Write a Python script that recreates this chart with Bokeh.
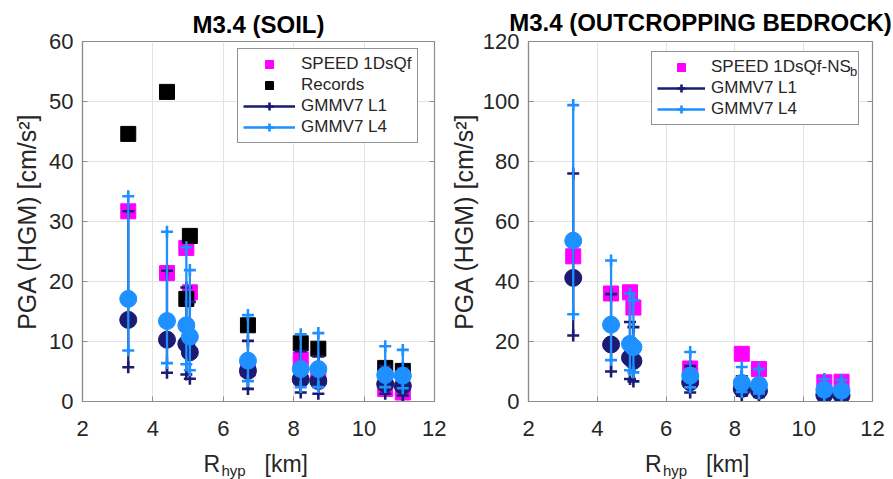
from bokeh.plotting import figure
from bokeh.layouts import row, column
from bokeh.models import (Range1d, FixedTicker, Legend, LegendItem, Label, LinearAxis)
from bokeh.embed import file_html
from bokeh.resources import INLINE

# ---------------- data ----------------
rhyp = [3.3, 4.4, 4.95, 5.05, 6.7, 8.2, 8.7, 10.6, 11.1]

# M3.4 SOIL
soil_speed = [31.7, 21.4, 25.6, 18.2, 5.5, 7.0, 4.0, 2.1, 1.5]
soil_records = [44.6, 51.6, 17.1, 27.6, 12.7, 9.7, 8.8, 5.6, 5.1]
soil_l1_med = [13.6, 10.3, 9.6, 8.2, 5.1, 3.7, 3.4, 2.9, 2.6]
soil_l1_hi = [31.7, 21.8, 19.0, 16.6, 10.1, 8.4, 7.5, 5.9, 5.6]
soil_l1_lo = [5.7, 4.8, 4.5, 3.8, 2.1, 1.5, 1.3, 1.3, 1.0]
soil_l4_med = [17.1, 13.4, 12.7, 10.8, 6.8, 5.4, 5.4, 4.4, 4.3]
soil_l4_hi = [34.2, 28.3, 25.7, 21.9, 14.4, 11.2, 11.4, 9.2, 8.6]
soil_l4_lo = [8.5, 6.4, 6.2, 5.2, 3.4, 2.4, 2.4, 2.4, 2.2]

# M3.4 OUTCROPPING BEDROCK
rock_speed = [48.4, 36.0, 36.4, 31.3, 11.0, 15.9, 10.8, 6.4, 6.6]
rock_l1_med = [41.2, 19.0, 14.6, 13.5, 6.4, 4.2, 3.6, 2.2, 2.0]
rock_l1_hi = [76.0, 35.8, 26.5, 24.8, 11.8, 8.4, 7.4, 4.6, 4.2]
rock_l1_lo = [22.0, 10.0, 7.5, 6.7, 3.0, 1.9, 1.5, 1.0, 0.9]
rock_l4_med = [53.6, 25.6, 19.2, 18.1, 8.6, 6.2, 5.5, 3.9, 3.6]
rock_l4_hi = [98.8, 47.0, 36.0, 33.8, 16.5, 11.5, 10.8, 7.5, 7.2]
rock_l4_lo = [29.1, 13.8, 10.4, 9.7, 4.7, 3.2, 2.7, 2.0, 1.8]

x_ticks = [2, 4, 6, 8, 10, 12]
soil_y_ticks = [0, 10, 20, 30, 40, 50, 60]
rock_y_ticks = [0, 20, 40, 60, 80, 100, 120]

# ---------------- style ----------------
FONT = "Liberation Sans"
NAVY = "#1b1b72"
BLUE = "#1e90ff"
MAGENTA = "#ff00ff"
AXIS = "#8c8c8c"
TEXT = "#262626"
GRID = "#e3e3e3"
PANEL_H = 450


def box_axis(ticks):
    # axis used only for the inward "box" ticks on the right side
    return LinearAxis(ticker=FixedTicker(ticks=ticks), major_label_text_font_size="1px",
                      major_label_text_color=None, axis_line_color=None,
                      major_tick_line_color=AXIS, major_tick_in=5, major_tick_out=0,
                      minor_tick_line_color=None, major_label_standoff=0)


def base_fig(title, width, ymax, yticks, bl, br, bt, bb, ylab_standoff, title_standoff):
    p = figure(width=width, height=PANEL_H, x_range=Range1d(2, 12), y_range=Range1d(0, ymax),
               output_backend="svg", toolbar_location=None, title=title,
               min_border_left=bl, min_border_right=br, min_border_top=bt, min_border_bottom=bb)
    p.title.text_font = FONT
    p.title.text_font_size = "24px"
    p.title.text_font_style = "bold"
    p.title.text_color = "#000000"
    p.title.align = "center"
    p.title.standoff = title_standoff
    p.outline_line_color = AXIS
    p.outline_line_width = 1.2
    p.background_fill_color = "white"
    p.border_fill_color = "white"

    p.xaxis.ticker = FixedTicker(ticks=x_ticks)
    p.yaxis.ticker = FixedTicker(ticks=yticks)
    for ax in (p.xaxis, p.yaxis):
        ax.axis_line_color = AXIS
        ax.axis_line_width = 1.2
        ax.major_tick_line_color = AXIS
        ax.major_tick_in = 5
        ax.major_tick_out = 0
        ax.minor_tick_line_color = None
        ax.major_label_text_font = FONT
        ax.major_label_text_font_size = "22px"
        ax.major_label_text_color = TEXT
    p.xaxis.major_label_standoff = 19
    p.yaxis.major_label_standoff = 9
    p.yaxis.axis_label = "PGA (HGM) [cm/s²]"
    p.yaxis.axis_label_text_font = FONT
    p.yaxis.axis_label_text_font_size = "25px"
    p.yaxis.axis_label_text_font_style = "normal"
    p.yaxis.axis_label_text_color = TEXT
    p.yaxis.axis_label_standoff = ylab_standoff

    p.add_layout(box_axis(yticks), "right")

    p.xgrid.grid_line_color = GRID
    p.ygrid.grid_line_color = GRID
    return p


def add_gmm(p, med, lo, hi, color):
    seg = p.segment(x0=rhyp, y0=lo, x1=rhyp, y1=hi, line_color=color, line_width=2.3)
    caps = p.scatter(x=rhyp + rhyp, y=hi + lo, marker="cross", size=12,
                     line_color=color, line_width=2.6)
    p.scatter(x=rhyp, y=med, marker="circle", size=17, fill_color=color, line_color=color)
    return seg, caps


def style_legend(lg, glyph_w):
    lg.label_text_font = FONT
    lg.label_text_font_size = "17px"
    lg.label_text_color = TEXT
    lg.border_line_color = "#262626"
    lg.border_line_width = 1
    lg.background_fill_color = "white"
    lg.background_fill_alpha = 1
    lg.glyph_width = glyph_w
    lg.glyph_height = 20
    lg.label_height = 20
    lg.label_standoff = 6
    lg.padding = 5
    lg.spacing = 1
    lg.margin = 0


# ---------------- left: SOIL ----------------
p1 = base_fig("M3.4 (SOIL)", 446, 60, soil_y_ticks, 82, 12, 35, PANEL_H - 401, 5, 8)
r_sp = p1.scatter(x=rhyp, y=soil_speed, marker="square", size=15, fill_color=MAGENTA, line_color=MAGENTA)
r_rec = p1.scatter(x=rhyp, y=soil_records, marker="square", size=15, fill_color="black", line_color="black")
s1, c1 = add_gmm(p1, soil_l1_med, soil_l1_lo, soil_l1_hi, NAVY)
s4, c4 = add_gmm(p1, soil_l4_med, soil_l4_lo, soil_l4_hi, BLUE)
lg1 = Legend(items=[LegendItem(label="SPEED 1DsQf", renderers=[r_sp]),
                    LegendItem(label="Records", renderers=[r_rec]),
                    LegendItem(label="GMMV7 L1", renderers=[s1, c1]),
                    LegendItem(label="GMMV7 L4", renderers=[s4, c4])],
             location=(155, 258))
style_legend(lg1, 52)
p1.add_layout(lg1)

# ---------------- right: OUTCROPPING BEDROCK ----------------
p2 = base_fig("M3.4 (OUTCROPPING BEDROCK)", 447, 120, rock_y_ticks, 81, 21, 39, PANEL_H - 403, 2, 12)
r_sp2 = p2.scatter(x=rhyp, y=rock_speed, marker="square", size=15, fill_color=MAGENTA, line_color=MAGENTA)
s1b, c1b = add_gmm(p2, rock_l1_med, rock_l1_lo, rock_l1_hi, NAVY)
s4b, c4b = add_gmm(p2, rock_l4_med, rock_l4_lo, rock_l4_hi, BLUE)
lg2 = Legend(items=[LegendItem(label="SPEED 1DsQf-NS", renderers=[r_sp2]),
                    LegendItem(label="GMMV7 L1", renderers=[s1b, c1b]),
                    LegendItem(label="GMMV7 L4", renderers=[s4b, c4b])],
             location=(123, 276))
style_legend(lg2, 48)
lg2.label_width = 142
p2.add_layout(lg2)

# subscript "b" of NS_b, drawn as a tiny borderless legend on top of the main legend
ghost = p2.scatter(x=rhyp[:1], y=rock_speed[:1], marker="square", size=1, fill_alpha=0, line_alpha=0)
lg_b = Legend(items=[LegendItem(label="b", renderers=[ghost])], location=(321, 322))
lg_b.label_text_font = FONT
lg_b.label_text_font_size = "13px"
lg_b.label_text_color = TEXT
lg_b.border_line_color = None
lg_b.background_fill_alpha = 0
lg_b.glyph_width = 1
lg_b.glyph_height = 12
lg_b.label_height = 12
lg_b.label_standoff = 0
lg_b.padding = 0
lg_b.margin = 0
lg_b.spacing = 0
p2.add_layout(lg_b)

# ---------------- strip with the x-axis titles (R_hyp [km]) ----------------
STRIP_H = 479 - PANEL_H
strip = figure(width=893, height=STRIP_H, x_range=Range1d(0, 893), y_range=Range1d(0, STRIP_H),
               output_backend="svg", toolbar_location=None, min_border=0,
               x_axis_location=None, y_axis_location=None)
strip.outline_line_color = None
strip.xgrid.visible = False
strip.ygrid.visible = False
for x0 in (203, 644.5):
    strip.add_layout(Label(x=x0, y=STRIP_H - 13, x_units="screen", y_units="screen", text="R",
                           text_font=FONT, text_font_size="23px", text_color=TEXT,
                           text_baseline="alphabetic", text_align="left"))
    strip.add_layout(Label(x=x0 + 18, y=STRIP_H - 20, x_units="screen", y_units="screen", text="hyp",
                           text_font=FONT, text_font_size="15px", text_color=TEXT,
                           text_baseline="alphabetic", text_align="left"))
    strip.add_layout(Label(x=x0 + 61, y=STRIP_H - 13, x_units="screen", y_units="screen", text="[km]",
                           text_font=FONT, text_font_size="23px", text_color=TEXT,
                           text_baseline="alphabetic", text_align="left"))

layout = column(row(p1, p2, spacing=0), strip, spacing=0)
open("out.html", "w").write(file_html(layout, INLINE))
